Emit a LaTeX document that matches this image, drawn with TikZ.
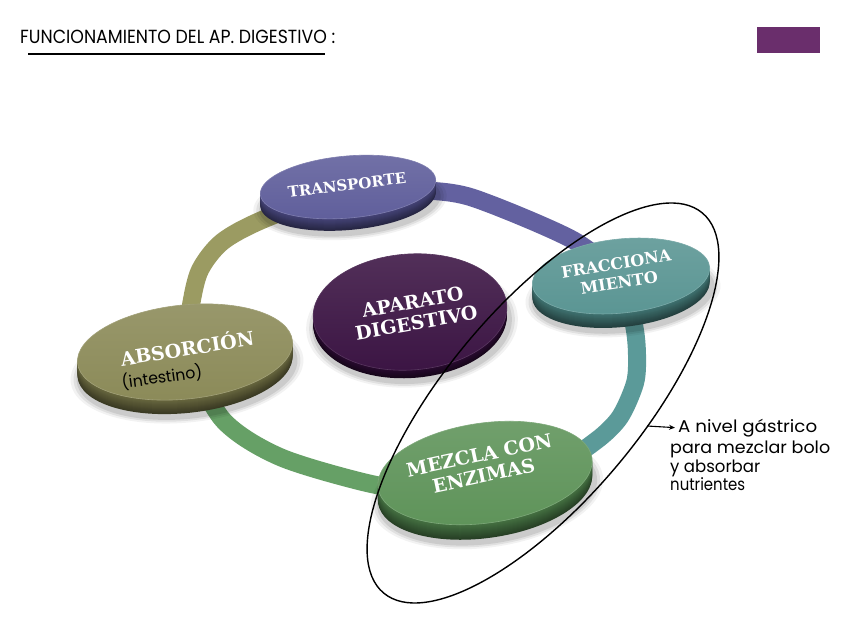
\documentclass[tikz,border=0pt]{standalone}
\usepackage{fontspec}
\setmainfont{DejaVu Serif}
\newfontfamily\handfont{Poppins}
\usetikzlibrary{shapes.geometric,arrows.meta}
\pgfdeclarelayer{bg}
\pgfdeclarelayer{ringlayer}
\pgfsetlayers{bg,ringlayer,main}
\definecolor{fTrans}{HTML}{5F5E9B}
\definecolor{sTrans}{HTML}{46457A}
\definecolor{fFrac}{HTML}{5A9593}
\definecolor{sFrac}{HTML}{417573}
\definecolor{fAbs}{HTML}{8B8A58}
\definecolor{sAbs}{HTML}{6A6940}
\definecolor{fMez}{HTML}{5E9359}
\definecolor{sMez}{HTML}{467343}
\definecolor{fApa}{HTML}{3B1443}
\definecolor{sApa}{HTML}{2A0B31}
\definecolor{rP}{HTML}{6361A0}
\definecolor{rT}{HTML}{5B9A99}
\definecolor{rG}{HTML}{66A066}
\definecolor{rO}{HTML}{9B9B62}
\definecolor{tagc}{HTML}{6A2E6C}
\newcommand\shtab[1]{\begin{tabular}{@{}c@{}}#1\end{tabular}}
\newcommand\hwl[2]{\resizebox{#1}{\height}{#2}}
% x y rx ry rot thickness topcolor sidecolor
\newcommand\discbase[8]{%
  \foreach \s/\o in {9/0.05,6/0.07,3/0.09}{%
    \fill[black,opacity=\o,rotate around={#5:(#1+2,#2+#6+4)}] (#1+2,#2+#6+4) ellipse[x radius=#3+\s, y radius=#4+\s*0.6];}
  \foreach \k in {#6,...,1}{%
    \pgfmathtruncatemacro\mx{55+45*(#6-\k)/#6}%
    \fill[#8!\mx!black,rotate around={#5:(#1,#2+\k)}] (#1,#2+\k) ellipse[x radius=#3, y radius=#4];}
}
\begin{document}
\begin{tikzpicture}[x=1pt,y=-1pt,
  ring/.style={line width=18pt,line cap=butt},
  face/.style={ellipse,inner sep=0pt,line width=0.6pt},
  lbl/.style={inner sep=0pt,text=white,font=\bfseries},
  hw/.style={inner sep=0pt,text=black},
]
\begin{pgfonlayer}{bg}
\fill[white] (0,0) rectangle (848,636);
\end{pgfonlayer}
\useasboundingbox (0,0) rectangle (848,636);

% title and tag
\node[hw,anchor=base west,font=\handfont\fontsize{19}{22}\selectfont] (title) at (20,44) {\hwl{315pt}{FUNCIONAMIENTO DEL AP. DIGESTIVO :}};
\draw[line width=1.6pt] (28,54) -- (325,54);
\node[fill=tagc,minimum width=63pt,minimum height=26pt,inner sep=0pt] (tag) at (788.5,40) {};

% discs
\discbase{410}{312}{97}{58}{4}{8}{fApa}{sApa}
\node[face,minimum width=194pt,minimum height=116pt,rotate=4,top color=fApa!88!white,bottom color=fApa,draw=fApa!85!white] (aparato) at (410,312) {};
\discbase{348}{187}{88}{31}{5}{12}{fTrans}{sTrans}
\node[face,minimum width=176pt,minimum height=62pt,rotate=5,top color=fTrans!88!white,bottom color=fTrans,draw=fTrans!80!white] (transporte) at (348,187) {};
\discbase{621}{276}{89}{37}{6}{14}{fFrac}{sFrac}
\node[face,minimum width=178pt,minimum height=74pt,rotate=6,top color=fFrac!88!white,bottom color=fFrac,draw=fFrac!80!white] (fraccion) at (621,276) {};
\discbase{185}{352}{108}{47}{6}{14}{fAbs}{sAbs}
\node[face,minimum width=216pt,minimum height=94pt,rotate=6,top color=fAbs!88!white,bottom color=fAbs,draw=fAbs!80!white] (absorcion) at (185,352) {};
\discbase{485}{473}{108}{50}{8}{15}{fMez}{sMez}
\node[face,minimum width=216pt,minimum height=100pt,rotate=8,top color=fMez!88!white,bottom color=fMez,draw=fMez!80!white] (mezcla) at (485,473) {};

% ring
\begin{pgfonlayer}{ringlayer}
\draw[ring,rP] plot[smooth] coordinates {(transporte.center) (445,192) (490,204) (573,240) (fraccion.center)};
\draw[ring,rT] plot[smooth] coordinates {(fraccion.center) (634,325) (637,355) (635,383) (620,417) (597,440) (565,458) (mezcla.center)};
\draw[ring,rG] plot[smooth] coordinates {(mezcla.center) (400,485) (367,483) (280,457) (223,420) (absorcion.center)};
\draw[ring,rO] plot[smooth] coordinates {(absorcion.center) (191,305) (200,270) (222,242) (262,220) (transporte.center)};
\end{pgfonlayer}

% labels
\node[lbl,rotate=7,font=\bfseries\fontsize{15}{17}\selectfont] (tTrans) at (347,185) {TRANSPORTE};
\node[lbl,rotate=9,font=\bfseries\fontsize{16}{19}\selectfont] (tFrac) at (618,275) {\shtab{FRACCIONA\\MIENTO}};
\node[lbl,rotate=9,font=\bfseries\fontsize{19}{20}\selectfont] (tAbs) at (187,347) {ABSORCIÓN};
\node[lbl,rotate=12,font=\bfseries\fontsize{19}{21}\selectfont] (tMez) at (482,468) {\shtab{MEZCLA CON\\ENZIMAS}};
\node[lbl,rotate=10,font=\bfseries\fontsize{19}{21}\selectfont] (tApa) at (415,315) {\shtab{APARATO\\DIGESTIVO}};
\node[hw,rotate=8,font=\handfont\fontsize{16}{18}\selectfont] (intest) at (162,377) {\hwl{81pt}{(intestino)}};

% big outline
\node[draw=black,ellipse,line width=1.4pt,minimum width=496pt,minimum height=194pt,inner sep=0pt,rotate=50] (zona) at (543,403) {};

% note
\coordinate (arrtail) at (647,426);
\node[hw,anchor=base west,font=\handfont\fontsize{17}{20}\selectfont] (note1) at (678,432) {\hwl{139pt}{A nivel gástrico}};
\node[hw,anchor=base west,font=\handfont\fontsize{17}{20}\selectfont] (note2) at (670,453) {\hwl{160pt}{para mezclar bolo}};
\node[hw,anchor=base west,font=\handfont\fontsize{17}{20}\selectfont] (note3) at (670,472) {\hwl{90pt}{y absorbar}};
\node[hw,anchor=base west,font=\handfont\fontsize{17}{20}\selectfont] (note4) at (670,490) {\hwl{75pt}{nutrientes}};
\draw[line width=1.1pt,-{Stealth[length=6pt,width=5pt]}] (arrtail) -- ([xshift=-3pt]note1.west);
\end{tikzpicture}
\end{document}
